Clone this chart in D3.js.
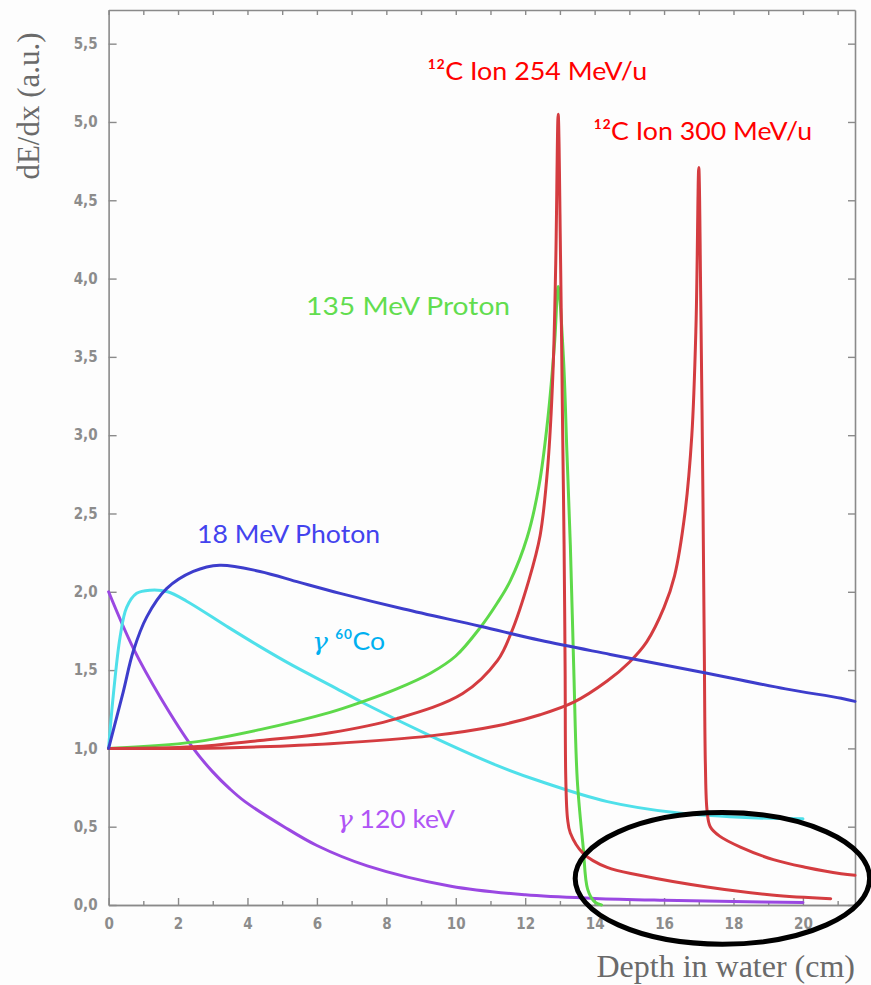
<!DOCTYPE html>
<html>
<head>
<meta charset="utf-8">
<script src="https://cdn.jsdelivr.net/npm/d3@7"></script>
<style>
  body { margin: 0; background: #ffffff; }
  svg { display: block; }
</style>
</head>
<body>
<svg id="chart" width="871" height="985"></svg>
<script>
// Depth-dose profiles in water: [depth (cm), dE/dx (a.u.)]
const photon18 = [[0,1.0],[0.42,1.36],[0.71,1.62],[1.1,1.84],[1.67,2.02],[2.44,2.13],[3.2,2.17],[4.36,2.13],[5.5,2.06],[6.67,1.99],[8.5,1.89],[10.7,1.78],[12.43,1.69],[14.45,1.60],[17.24,1.48],[19.5,1.38],[21.1,1.32],[21.5,1.30]];
const cobalt60 = [[0,1.0],[0.14,1.35],[0.33,1.71],[0.52,1.90],[0.81,1.99],[1.2,2.01],[1.7,2.0],[2.25,1.94],[3.4,1.78],[4.36,1.65],[5.3,1.53],[6.5,1.39],[7.34,1.29],[9.27,1.08],[11.2,0.89],[12.43,0.79],[14.37,0.66],[16.3,0.59],[18.2,0.56],[20.0,0.55]];
const kev120 = [[0,2.0],[0.71,1.64],[1.48,1.33],[2.44,1.0],[3.0,0.85],[3.5,0.74],[3.93,0.66],[5.05,0.50],[6.0,0.38],[7.45,0.25],[9.86,0.12],[12,0.065],[14,0.042],[16,0.03],[18,0.022],[20,0.016]];
const proton135 = [[0,1.0],[2.44,1.04],[4.36,1.12],[6.38,1.23],[7.34,1.30],[8.3,1.38],[9.27,1.48],[10.0,1.59],[10.7,1.77],[11.2,1.93],[11.57,2.07],[12.06,2.35],[12.4,2.68],[12.65,3.1],[12.85,3.6],[12.95,3.95],[13.1,3.5],[13.2,2.9],[13.3,2.3],[13.4,1.5],[13.5,0.8],[13.67,0.37],[13.8,0.10],[14.0,0.02],[14.2,0.0]];
const carbon254 = [[0,1.0],[2.44,1.01],[4.36,1.05],[6.38,1.10],[8.3,1.19],[10.2,1.35],[11.2,1.56],[11.6,1.74],[12.1,2.07],[12.43,2.36],[12.65,2.8],[12.8,3.4],[12.88,4.1],[12.95,5.05],[13.02,4.1],[13.08,3.0],[13.12,2.3],[13.15,1.5],[13.17,0.8],[13.22,0.55],[13.3,0.46],[13.67,0.33],[14.36,0.24],[15.3,0.19],[17.24,0.115],[19.1,0.064],[20.8,0.04]];
const carbon300 = [[0,1.0],[2.44,1.0],[4.36,1.01],[6.38,1.03],[9.27,1.08],[11.2,1.145],[12.43,1.215],[13.4,1.295],[14.36,1.43],[15.0,1.55],[15.5,1.68],[16.0,1.90],[16.3,2.1],[16.6,2.5],[16.8,3.0],[16.92,3.7],[17.0,4.71],[17.06,3.8],[17.12,2.6],[17.16,1.6],[17.19,0.9],[17.24,0.6],[17.33,0.50],[17.6,0.44],[18.2,0.37],[19.15,0.29],[20.1,0.24],[21.1,0.20],[21.5,0.19]];

// Axis ticks
const xMajorTicks = [0,2,4,6,8,10,12,14,16,18,20];
const xMinorTicks = [1,3,5,7,9,11,13,15,17,19,21];
const yTicks = [0,0.5,1.0,1.5,2.0,2.5,3.0,3.5,4.0,4.5,5.0,5.5];

// Curve labels: text and anchor point in data units
const labelNames = ["¹²C Ion 254 MeV/u","¹²C Ion 300 MeV/u","135 MeV Proton","18 MeV Photon","γ ⁶⁰Co","γ 120 keV"];
const labelAt = [[9.18,5.27],[13.96,4.885],[5.69,3.77],[2.55,2.31],[5.86,1.63],[6.58,0.49]];

// Highlight ring around the distal tails: centre and radii in data units
const ringCentre = [17.68, 0.17];
const ringRadii = [4.24, 0.42];

const svg = d3.select("#chart");
const W = 871, H = 985;
const m = { left: 108.6, right: 855, top: 10, bottom: 905 };

const x = d3.scaleLinear().domain([0, 21.5]).range([m.left, m.right]);
const y = d3.scaleLinear().domain([0, 5.715]).range([m.bottom, m.top]);

svg.append("rect").attr("width", W).attr("height", H).attr("fill", "#fdfdfd");

const frameColor = "#8a8a8a";
const tickFont = "'DejaVu Sans Condensed', 'DejaVu Sans', sans-serif";
const comma = d3.formatLocale({ decimal: ",", thousands: ".", grouping: [3], currency: ["", ""] }).format(".1f");

// Inward-pointing axes on all four sides
const gB = svg.append("g").attr("transform", `translate(0,${m.bottom})`)
  .call(d3.axisBottom(x).tickValues(xMajorTicks).tickSizeInner(-7).tickSizeOuter(0).tickPadding(13).tickFormat(d3.format("d")));
const gBm = svg.append("g").attr("transform", `translate(0,${m.bottom})`)
  .call(d3.axisBottom(x).tickValues(xMinorTicks).tickSizeInner(-4).tickSizeOuter(0).tickFormat(""));
const gT = svg.append("g").attr("transform", `translate(0,${m.top})`)
  .call(d3.axisTop(x).tickValues(xMajorTicks.concat(xMinorTicks)).tickSizeInner(-5).tickSizeOuter(0).tickFormat(""));
const gL = svg.append("g").attr("transform", `translate(${m.left},0)`)
  .call(d3.axisLeft(y).tickValues(yTicks).tickSizeInner(-8).tickSizeOuter(0).tickPadding(11).tickFormat(comma));
const gR = svg.append("g").attr("transform", `translate(${m.right},0)`)
  .call(d3.axisRight(y).tickValues(yTicks).tickSizeInner(-7).tickSizeOuter(0).tickFormat(""));

[gB, gBm, gT, gL, gR].forEach(g => {
  g.select(".domain").attr("stroke", frameColor).attr("stroke-width", 1.6);
  g.selectAll(".tick line").attr("stroke", frameColor).attr("stroke-width", 1.4);
  g.selectAll(".tick text").attr("fill", "#8c8c8c").attr("font-family", tickFont)
    .attr("font-size", 15).attr("font-weight", "bold");
});

// Curves
const line = d3.line().x(d => x(d[0])).y(d => y(d[1])).curve(d3.curveCatmullRom.alpha(0.5));
const series = [
  { data: kev120, color: "#9a48e2" },
  { data: cobalt60, color: "#4fe0ea" },
  { data: proton135, color: "#5ed94a" },
  { data: carbon300, color: "#d43c40" },
  { data: carbon254, color: "#d43c40" },
  { data: photon18, color: "#3d3dcc" }
];
svg.append("g").selectAll("path").data(series).join("path")
  .attr("d", d => line(d.data))
  .attr("fill", "none")
  .attr("stroke", d => d.color)
  .attr("stroke-width", 3)
  .attr("stroke-linejoin", "round")
  .attr("stroke-linecap", "round");

// Curve labels
const labelColors = ["#ff0000", "#ff0000", "#62dd4f", "#4343ee", "#00b0f0", "#b055f5"];
const labelFont = "Lato, 'Open Sans', sans-serif";
const labelWidths = [220, 219, 204, 183, 73, 118];
const gLab = svg.append("g");
labelNames.forEach((name, i) => {
  const t = gLab.append("text")
    .attr("x", x(labelAt[i][0]))
    .attr("y", y(labelAt[i][1]))
    .attr("fill", labelColors[i])
    .attr("font-family", labelFont)
    .attr("font-size", 25)
    .attr("textLength", labelWidths[i])
    .attr("lengthAdjust", "spacingAndGlyphs");
  if (name.startsWith("γ")) {
    t.append("tspan").attr("font-family", "'DejaVu Serif', serif").attr("font-style", "italic").text("γ");
    t.append("tspan").text(name.slice(1));
  } else {
    t.text(name);
  }
});

// Ring marking the fragmentation tails
svg.append("ellipse")
  .attr("cx", x(ringCentre[0]))
  .attr("cy", y(ringCentre[1]))
  .attr("rx", x(ringRadii[0]) - x(0))
  .attr("ry", y(0) - y(ringRadii[1]))
  .attr("fill", "none")
  .attr("stroke", "#000")
  .attr("stroke-width", 5);

// Axis titles
svg.append("text")
  .attr("transform", `translate(39,106) rotate(-90)`)
  .attr("text-anchor", "middle")
  .attr("fill", "#6a6a6a")
  .attr("font-family", "'Liberation Serif', 'Times New Roman', serif")
  .attr("font-size", 31)
  .text("dE/dx (a.u.)");
svg.append("text")
  .attr("x", m.right)
  .attr("y", 977)
  .attr("text-anchor", "end")
  .attr("fill", "#6a6a6a")
  .attr("font-family", "'Liberation Serif', 'Times New Roman', serif")
  .attr("font-size", 32)
  .text("Depth in water (cm)");
</script>
</body>
</html>
